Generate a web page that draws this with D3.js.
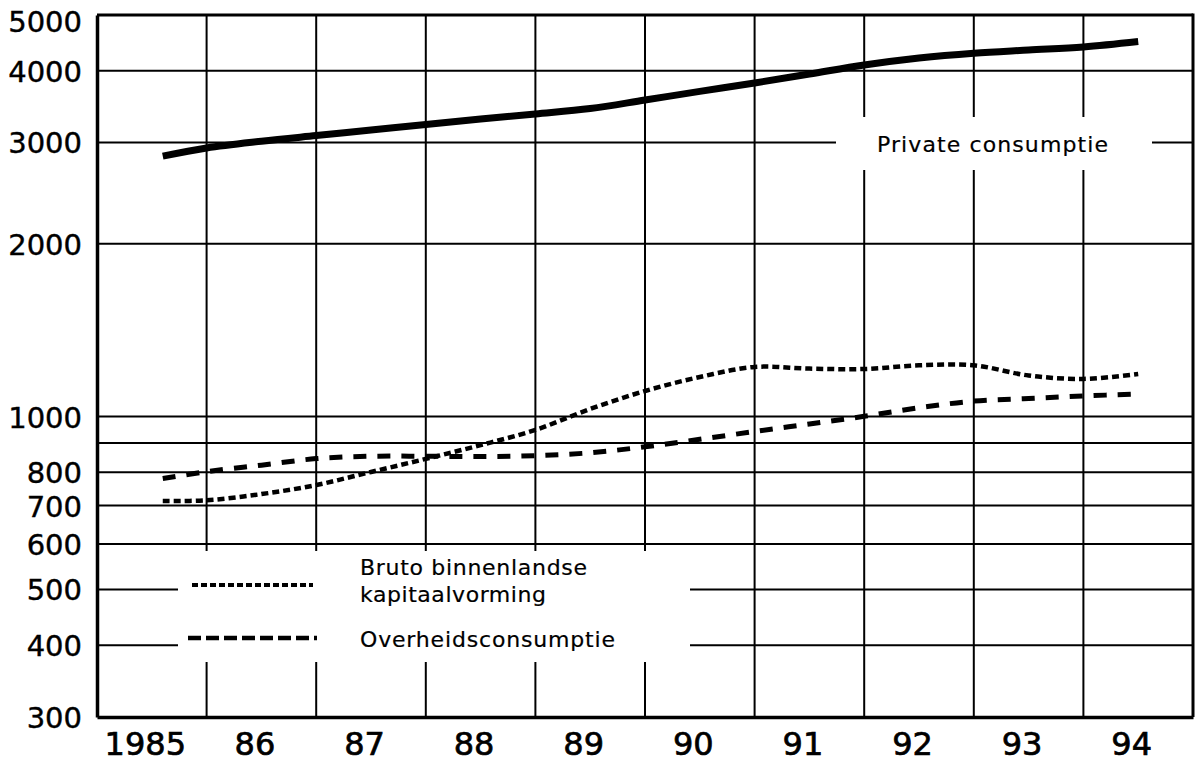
<!DOCTYPE html>
<html>
<head>
<meta charset="utf-8">
<script src="https://cdn.jsdelivr.net/npm/d3@7/dist/d3.min.js"></script>
<style>
  html, body { margin: 0; padding: 0; background: #ffffff; }
  svg { display: block; }
  text { font-family: "DejaVu Sans", "Liberation Sans", Arial, sans-serif; fill: #000; }
</style>
</head>
<body>
<svg id="chart" width="1201" height="763"></svg>
<script>
// Time position of each observation (mid-year and year boundaries)
const periods = [1985.6, 1986, 1986.5, 1987, 1987.5, 1988, 1988.5, 1989, 1989.5,
                 1990, 1990.5, 1991, 1991.5, 1992, 1992.5, 1993, 1993.5, 1994, 1994.5];

// Private consumptie
const privateConsumptie = [2840, 2935, 3015, 3084, 3153, 3225, 3295, 3363, 3437,
                           3556, 3681, 3807, 3946, 4092, 4209, 4291, 4345, 4398, 4495];
// Bruto binnenlandse kapitaalvorming
const kapitaalvorming = [713, 715, 733, 760, 801, 844, 892, 948, 1031,
                         1108, 1172, 1220, 1212, 1210, 1228, 1228, 1179, 1163, 1186];
// Overheidsconsumptie
const overheidsconsumptie = [780, 802, 823, 845, 853, 853, 852, 855, 865,
                             886, 913, 942, 971, 1001, 1036, 1064, 1075, 1086, 1095];

// Axis labels
const yTickValues = [300, 400, 500, 600, 700, 800, 1000, 2000, 3000, 4000, 5000];
const yTickLabels = ["300", "400", "500", "600", "700", "800", "1000", "2000", "3000", "4000", "5000"];
const gridValues = [400, 500, 600, 700, 800, 900, 1000, 2000, 3000, 4000];
const yearBoundaries = [1986, 1987, 1988, 1989, 1990, 1991, 1992, 1993, 1994];
const xYears = [1985, 1986, 1987, 1988, 1989, 1990, 1991, 1992, 1993, 1994];
const xTickLabels = ["1985", "86", "87", "88", "89", "90", "91", "92", "93", "94"];

const svg = d3.select("#chart");
const plotLeft = 97, plotRight = 1193, plotTop = 15, plotBottom = 717;

const x = d3.scaleLinear().domain([1985, 1995]).range([plotLeft, plotRight]);
const y = d3.scaleLog().domain([300, 5000]).range([plotBottom, plotTop]);

// Grid
const grid = svg.append("g").attr("stroke", "#000").attr("stroke-width", 2);
grid.selectAll("line.h").data(gridValues).join("line")
  .attr("class", "h")
  .attr("x1", plotLeft).attr("x2", plotRight)
  .attr("y1", d => y(d)).attr("y2", d => y(d));
grid.selectAll("line.v").data(yearBoundaries).join("line")
  .attr("class", "v")
  .attr("x1", d => x(d)).attr("x2", d => x(d))
  .attr("y1", plotTop).attr("y2", plotBottom);

// Cleared areas behind the captions
svg.append("rect").attr("x", 836).attr("y", 117).attr("width", 316).attr("height", 53).attr("fill", "#fff");
svg.append("rect").attr("x", 178).attr("y", 551).attr("width", 512).attr("height", 111).attr("fill", "#fff");

// Frame: top and right borders
svg.append("line").attr("x1", plotLeft).attr("x2", plotRight).attr("y1", y(5000)).attr("y2", y(5000))
  .attr("stroke", "#000").attr("stroke-width", 3);
svg.append("line").attr("x1", plotRight).attr("x2", plotRight).attr("y1", y(5000) - 1.5).attr("y2", plotBottom)
  .attr("stroke", "#000").attr("stroke-width", 3);

// Axes
const yAxis = svg.append("g")
  .attr("transform", `translate(${plotLeft},0)`)
  .call(d3.axisLeft(y).tickValues(yTickValues)
        .tickFormat((d, i) => yTickLabels[i]).tickSize(0).tickSizeOuter(0).tickPadding(15));
yAxis.select(".domain").attr("stroke", "#000").attr("stroke-width", 3.5);
yAxis.selectAll("text")
  .attr("font-size", 29).attr("font-family", null)
  .attr("stroke", "#000").attr("stroke-width", 0.4)
  .attr("dy", "0.36em")
  .attr("y", d => d === 5000 ? 6 : 0);

const xAxis = svg.append("g")
  .attr("transform", `translate(0,${plotBottom})`)
  .call(d3.axisBottom(x).tickValues(xYears.map(d => d + 0.5))
        .tickFormat((d, i) => xTickLabels[i]).tickSize(0).tickSizeOuter(0).tickPadding(15));
xAxis.select(".domain").attr("stroke", "#000").attr("stroke-width", 3.5);
xAxis.selectAll("text")
  .attr("font-size", 32).attr("font-family", "'Liberation Sans', Arial, sans-serif")
  .attr("stroke", "#000").attr("stroke-width", 0.7)
  .attr("x", -7);

// Series
const line = values => d3.line()
  .x((d, i) => x(periods[i]))
  .y(d => y(d))
  .curve(d3.curveCatmullRom.alpha(0.5))(values);

svg.append("path").attr("d", line(privateConsumptie))
  .attr("fill", "none").attr("stroke", "#000").attr("stroke-width", 7);
svg.append("path").attr("d", line(kapitaalvorming))
  .attr("fill", "none").attr("stroke", "#000").attr("stroke-width", 4.5)
  .attr("stroke-dasharray", "7 4");
svg.append("path").attr("d", line(overheidsconsumptie))
  .attr("fill", "none").attr("stroke", "#000").attr("stroke-width", 5)
  .attr("stroke-dasharray", "13 11");

// Series captions
svg.append("text").attr("x", 877).attr("y", 152)
  .attr("font-size", 22).attr("textLength", 231).attr("lengthAdjust", "spacing")
  .attr("stroke", "#000").attr("stroke-width", 0.2)
  .text("Private consumptie");

const legend = svg.append("g");
legend.append("line").attr("x1", 192).attr("x2", 313).attr("y1", 585).attr("y2", 585)
  .attr("stroke", "#000").attr("stroke-width", 4).attr("stroke-dasharray", "6 3");
legend.append("line").attr("x1", 188).attr("x2", 317).attr("y1", 638).attr("y2", 638)
  .attr("stroke", "#000").attr("stroke-width", 4.5).attr("stroke-dasharray", "13 5");
legend.append("text").attr("x", 360).attr("y", 575)
  .attr("font-size", 22).attr("textLength", 227).attr("lengthAdjust", "spacing")
  .attr("stroke", "#000").attr("stroke-width", 0.2)
  .text("Bruto binnenlandse");
legend.append("text").attr("x", 360).attr("y", 602)
  .attr("font-size", 22).attr("textLength", 186).attr("lengthAdjust", "spacing")
  .attr("stroke", "#000").attr("stroke-width", 0.2)
  .text("kapitaalvorming");
legend.append("text").attr("x", 360).attr("y", 647)
  .attr("font-size", 22).attr("textLength", 255).attr("lengthAdjust", "spacing")
  .attr("stroke", "#000").attr("stroke-width", 0.2)
  .text("Overheidsconsumptie");
</script>
</body>
</html>
